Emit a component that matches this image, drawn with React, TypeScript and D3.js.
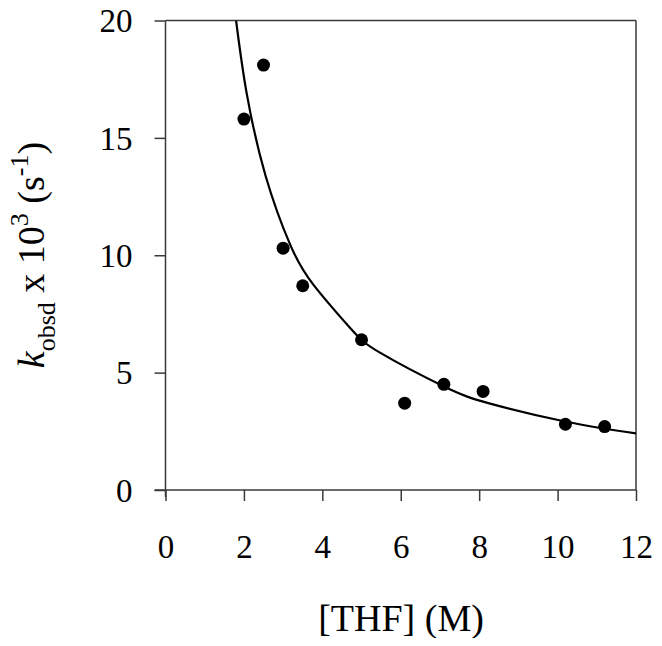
import React, { useEffect, useRef } from "react";
import * as d3 from "d3";

// measured points: [THF] (M) vs k_obsd x 10^3 (s^-1)
const thf = [2.0, 2.5, 3.0, 3.5, 5.0, 6.1, 7.1, 8.1, 10.2, 11.2];
const kobs = [15.8, 18.1, 10.3, 8.7, 6.4, 3.7, 4.5, 4.2, 2.8, 2.7];

// fitted curve
const fitX = [1.8, 2.07, 2.55, 3.18, 3.77, 4.71, 5.47, 7.09, 8.28, 10.19, 12.0];
const fitY = [20.0, 16.9, 13.4, 10.45, 8.75, 6.9, 5.85, 4.42, 3.68, 2.92, 2.41];

const xTicks = [0, 2, 4, 6, 8, 10, 12];
const yTicks = [0, 5, 10, 15, 20];

const W = 662;
const H = 646;
const margin = { top: 20.5, right: 26, bottom: 156, left: 165.5 };
const FONT = "'Liberation Serif', 'Times New Roman', serif";

export default function App() {
  const ref = useRef<SVGSVGElement>(null);

  useEffect(() => {
    const svg = d3.select(ref.current);
    svg.selectAll("*").remove();

    const w = W - margin.left - margin.right;
    const h = H - margin.top - margin.bottom;

    const x = d3.scaleLinear().domain([0, 12]).range([margin.left, margin.left + w]);
    const y = d3.scaleLinear().domain([0, 20]).range([margin.top + h, margin.top]);

    const axisColor = "#3a3a3a";

    // x axis
    const gx = svg.append("g").attr("transform", `translate(0, ${y(0)})`)
      .call(d3.axisBottom(x).tickValues(xTicks).tickSize(11).tickSizeOuter(0).tickFormat(d3.format("d")));
    gx.select(".domain").remove();
    gx.selectAll("line").attr("stroke", axisColor).attr("stroke-width", 1.5);
    gx.selectAll("text").attr("y", 68).attr("dy", 0)
      .attr("font-family", FONT).attr("font-size", 33).attr("fill", "#000");

    // y axis
    const gy = svg.append("g").attr("transform", `translate(${x(0)}, 0)`)
      .call(d3.axisLeft(y).tickValues(yTicks).tickSize(11).tickSizeOuter(0).tickPadding(22).tickFormat(d3.format("d")));
    gy.select(".domain").remove();
    gy.selectAll("line").attr("stroke", axisColor).attr("stroke-width", 1.5);
    gy.selectAll("text").attr("dy", "0.34em")
      .attr("font-family", FONT).attr("font-size", 33).attr("fill", "#000");

    // axis lines and frame
    const frame = svg.append("g").attr("stroke", axisColor).attr("stroke-width", 1.5).attr("fill", "none");
    frame.append("line").attr("x1", x(0) - 11).attr("x2", x(12)).attr("y1", y(0)).attr("y2", y(0));
    frame.append("line").attr("x1", x(0)).attr("x2", x(0)).attr("y1", y(20)).attr("y2", y(0) + 7);
    frame.append("line").attr("x1", x(0)).attr("x2", x(12)).attr("y1", y(20)).attr("y2", y(20));
    frame.append("line").attr("x1", x(12)).attr("x2", x(12)).attr("y1", y(20)).attr("y2", y(0));

    // fit curve
    svg.append("clipPath").attr("id", "plot-clip")
      .append("rect").attr("x", x(0)).attr("y", y(20)).attr("width", w).attr("height", h);
    const line = d3.line<number>()
      .x((_, i) => x(fitX[i]))
      .y((_, i) => y(fitY[i]))
      .curve(d3.curveNatural);
    svg.append("path")
      .attr("d", line(fitX))
      .attr("clip-path", "url(#plot-clip)")
      .attr("fill", "none")
      .attr("stroke", "#000")
      .attr("stroke-width", 2.2);

    // points
    svg.append("g").selectAll("circle")
      .data(thf).join("circle")
      .attr("cx", d => x(d))
      .attr("cy", (_, i) => y(kobs[i]))
      .attr("r", 6.5)
      .attr("fill", "#000");

    // x title
    svg.append("text")
      .attr("x", 401).attr("y", 631)
      .attr("text-anchor", "middle")
      .attr("font-family", FONT).attr("font-size", 38)
      .text("[THF] (M)");

    // y title
    const yt = svg.append("text")
      .attr("transform", "translate(44, 255) rotate(-90)")
      .attr("text-anchor", "middle")
      .attr("font-family", FONT).attr("font-size", 38);
    yt.append("tspan").attr("font-style", "italic").text("k");
    yt.append("tspan").attr("font-size", 26).attr("dy", 11).text("obsd");
    yt.append("tspan").attr("dy", -11).text(" x 10");
    yt.append("tspan").attr("font-size", 26).attr("dy", -16).text("3");
    yt.append("tspan").attr("dy", 16).text(" (s");
    yt.append("tspan").attr("font-size", 26).attr("dy", -16).text("-1");
    yt.append("tspan").attr("dy", 16).text(")");
  }, []);

  return <svg ref={ref} width={W} height={H} style={{ display: "block", margin: "-8px" }} />;
}
